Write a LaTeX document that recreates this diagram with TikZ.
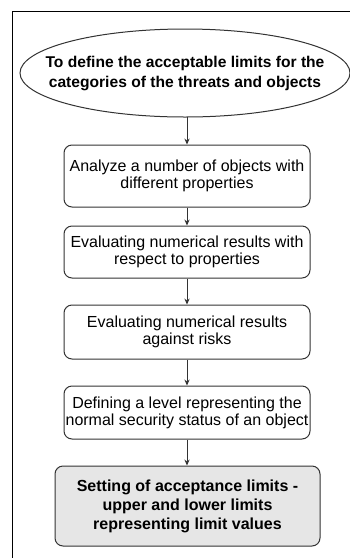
\documentclass[tikz,border=0pt]{standalone}
\usepackage{fontspec}
\setmainfont{Liberation Sans}
\usetikzlibrary{arrows.meta}
\definecolor{linegray}{HTML}{333333}
\definecolor{boxfill}{HTML}{E6E6E6}
\begin{document}
\begin{tikzpicture}[x=0.75pt,y=-0.75pt,
  stepbox/.style={draw=linegray,line width=0.75pt,rounded corners=6pt,align=center,
    minimum width=246*0.75pt,inner sep=0pt,font=\fontsize{12pt}{12.9pt}\selectfont},
  goalbox/.style={stepbox,fill=boxfill,minimum width=265*0.75pt,
    font=\fontsize{12pt}{14.3pt}\selectfont\bfseries},
  flow/.style={draw=linegray,line width=0.75pt,-{Stealth[length=4.5pt,width=4pt]}}]
  \useasboundingbox (0,0) rectangle (350,558);
  % outer frame (open on the right and bottom)
  \draw[black,line width=0.75pt] (350,11) -- (12,11) -- (12,558);
  % start ellipse
  \node[align=center,inner sep=0pt,font=\fontsize{11.7pt}{15pt}\selectfont\bfseries]
    (goal) at (185,73) {To define the acceptable limits for the\\categories of the threats and objects};
  \draw[linegray,line width=0.75pt] (goal.center) ellipse [x radius=165*0.75pt, y radius=44*0.75pt];
  \coordinate (goalbottom) at (187,117);
  % process steps
  \node[stepbox,minimum height=62*0.75pt] (s1) at (187,176)
    {Analyze a number of objects with\\different properties};
  \node[stepbox,minimum height=52*0.75pt] (s2) at (187,252)
    {Evaluating numerical results with\\respect to properties};
  \node[stepbox,minimum height=54*0.75pt] (s3) at (187,332)
    {Evaluating numerical results\\against risks};
  \node[stepbox,minimum height=53*0.75pt] (s4) at (187,412.5)
    {Defining a level representing the\\normal security status of an object};
  \node[goalbox,minimum height=80*0.75pt] (s5) at (187.5,506)
    {Setting of acceptance limits -\\upper and lower limits\\representing limit values};
  % connectors
  \draw[flow] (goalbottom) -- (s1.north);
  \draw[flow] (s1) -- (s2);
  \draw[flow] (s2) -- (s3);
  \draw[flow] (s3) -- (s4);
  \draw[flow] (s4.south) -- (s4.south |- s5.north);
\end{tikzpicture}
\end{document}
